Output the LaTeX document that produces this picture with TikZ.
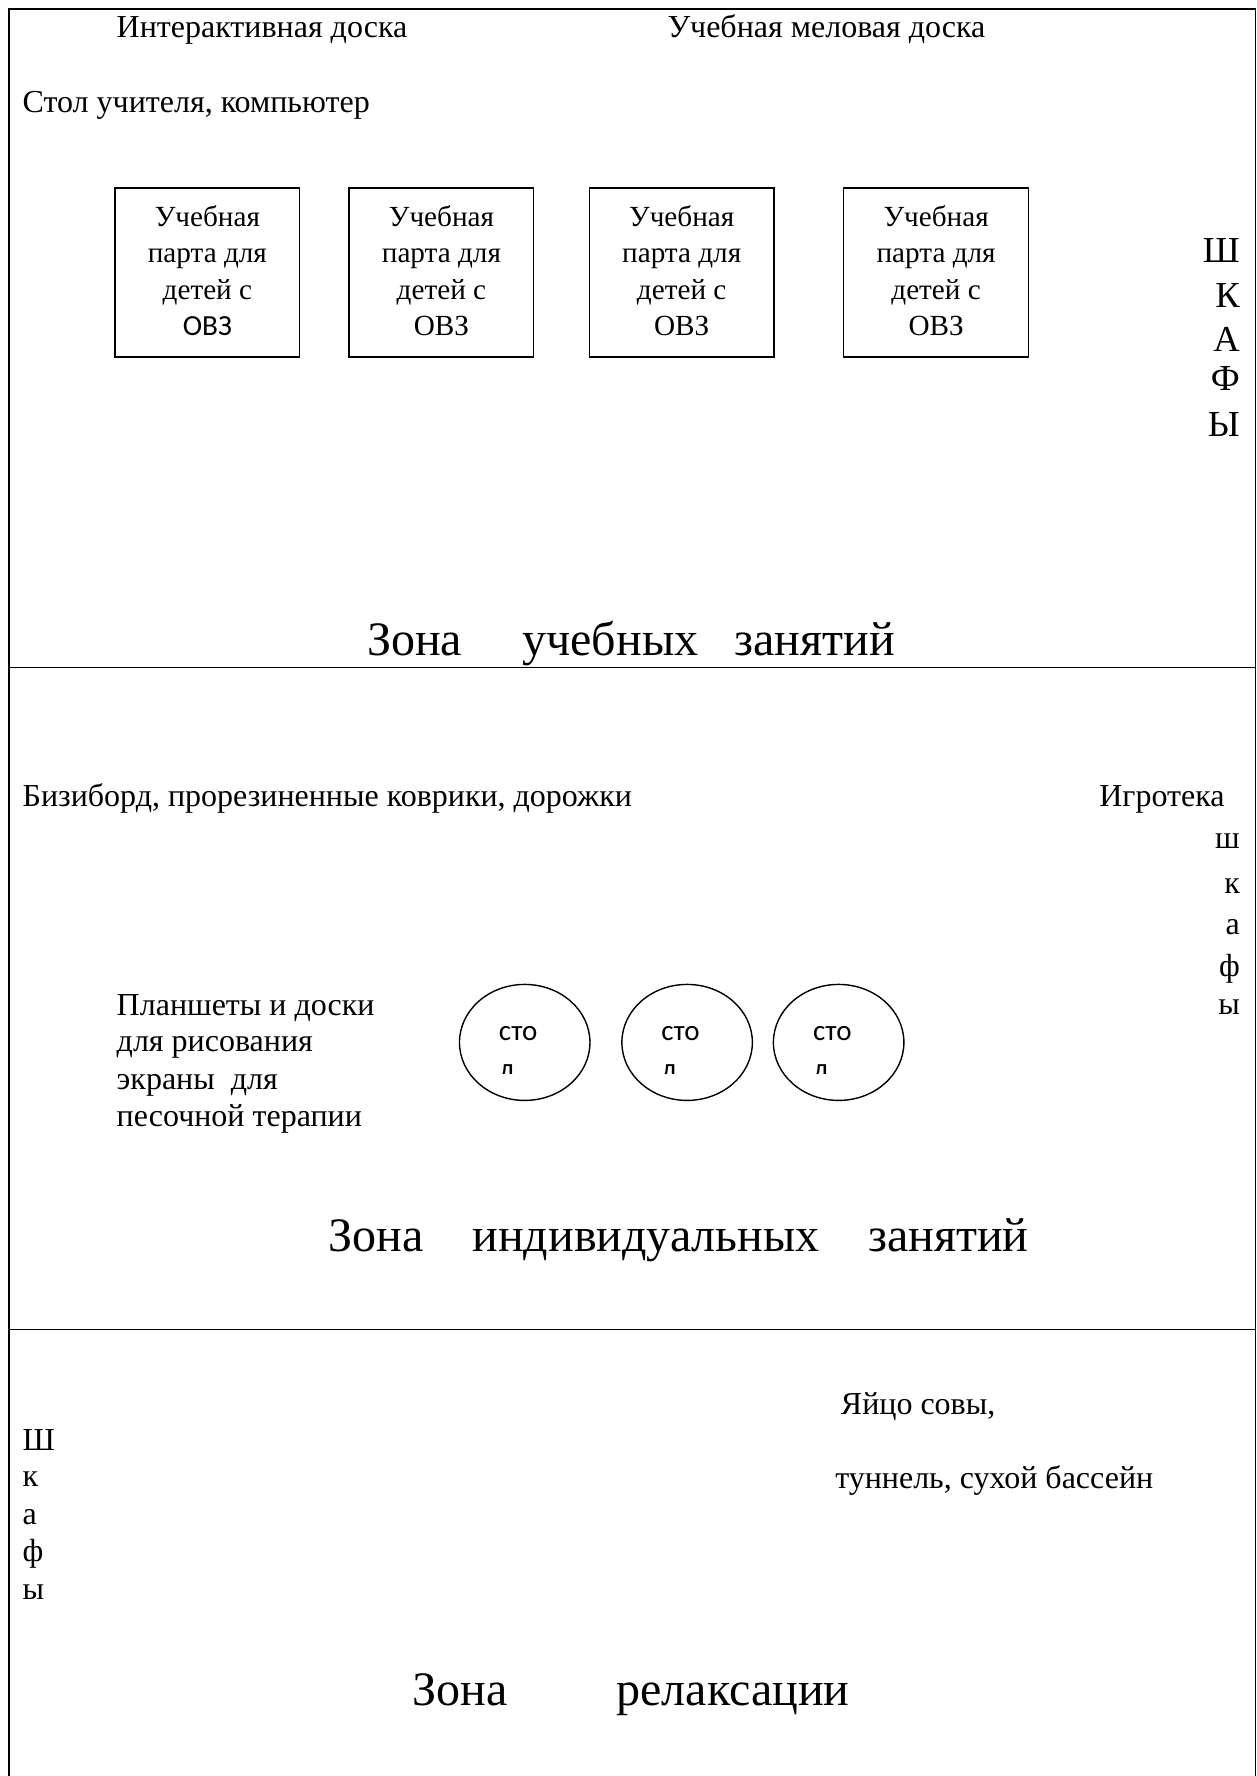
\documentclass[tikz,border=0pt]{standalone}
\usepackage{fontspec}
\usetikzlibrary{shapes.geometric}
\setmainfont{Liberation Serif}
\newfontfamily\calib{Carlito}
\newcommand{\ptext}{\fontsize{32}{36.7}\selectfont}
\newcommand{\boxtext}{\fontsize{29.2}{36.4}\selectfont}
\newcommand{\zonetext}{\fontsize{48}{56}\selectfont}
\newcommand{\bigtext}{\fontsize{36.6}{42}\selectfont}
\newcommand{\tbltext}{\calib\fontsize{29}{36}\selectfont}
\begin{document}
\begin{tikzpicture}[x=1.1333pt,y=-1.1333pt,
  every node/.style={inner sep=0pt,outer sep=0pt,font=\ptext},
  lbl/.style={anchor=base west,align=left},
  rlbl/.style={anchor=base east},
  frameline/.style={line width=1.4pt,black},
  desk/.style={draw,line width=1.4pt,minimum width=184.7pt,minimum height=169pt},
  desktext/.style={align=center,font=\boxtext,yshift=2pt},
  tbl/.style={draw,ellipse,line width=1.4pt,minimum width=130.5pt,minimum height=116pt},
  tlab/.style={anchor=base west,font=\tbltext},
  zone/.style={anchor=base west,font=\zonetext},
  big/.style={anchor=base east,font=\bigtext}]
\useasboundingbox (0,0) rectangle (1109.1,1567.1);
\draw[frameline] (8,1568) -- (8,8) -- (1108,8) -- (1108,1568);
\draw[frameline] (8,589) -- (1108,589);
\draw[frameline] (8,1173) -- (1108,1173);
\node[lbl] (idoska) at (103,33) {Интерактивная доска};
\node[lbl] (mdoska) at (589,33) {Учебная меловая доска};
\node[lbl] (stol) at (20,99) {Стол учителя, компьютер};
\node[desk] (d1) at (183,240.5) {};
\node[desk] (d2) at (389.5,240.5) {};
\node[desk] (d3) at (601.5,240.5) {};
\node[desk] (d4) at (826,240.5) {};
\node[desktext] (dt1) at (d1.center) {Учебная\\парта для\\детей с\\{\calib ОВЗ}};
\node[desktext] (dt2) at (d2.center) {Учебная\\парта для\\детей с\\ОВЗ};
\node[desktext] (dt3) at (d3.center) {Учебная\\парта для\\детей с\\ОВЗ};
\node[desktext] (dt4) at (d4.center) {Учебная\\парта для\\детей с\\ОВЗ};
\node[big] (s1) at (1094,232) {Ш};
\node[big] (s2) at (1094,271) {К};
\node[big] (s3) at (1094,310) {А};
\node[big] (s4) at (1094,345) {Ф};
\node[big] (s5) at (1094,385) {Ы};
\node[zone] (z1) at (324,578) {Зона};
\node[zone] (z1b) at (461,578) {учебных};
\node[zone] (z1c) at (648,578) {занятий};
\node[lbl] (biz) at (20,712) {Бизиборд, прорезиненные коврики, дорожки};
\node[lbl] (igr) at (970,712) {Игротека};
\node[rlbl] (t1) at (1094,749) {ш};
\node[rlbl] (t2) at (1094,788) {к};
\node[rlbl] (t3) at (1094,825) {а};
\node[rlbl] (t4) at (1094,862) {ф};
\node[rlbl] (t5) at (1094,895) {ы};
\node[lbl] (pl1) at (103,896) {Планшеты и доски};
\node[lbl] (pl2) at (103,928) {для рисования};
\node[lbl] (pl3) at (103,961) {экраны~ для};
\node[lbl] (pl4) at (103,994) {песочной терапии};
\node[tbl] (e1) at (463,919.8) {};
\node[tbl] (e2) at (606.3,919.8) {};
\node[tbl] (e3) at (740,919.8) {};
\node[tlab] (c1) at (440.3,917.7) {сто};
\node[tlab] (c2) at (583.5,917.7) {сто};
\node[tlab] (c3) at (717.5,917.7) {сто};
\begin{scope}
\clip (430,930) rectangle (760,946.8);
\node[tlab] (l1) at (440.5,951.7) {л};
\node[tlab] (l2) at (583.5,951.7) {л};
\node[tlab] (l3) at (717.5,951.7) {л};
\end{scope}
\node[zone] (z2) at (290,1104) {Зона};
\node[zone] (z2b) at (417,1104) {индивидуальных};
\node[zone] (z2c) at (766,1104) {занятий};
\node[lbl] (egg) at (742,1248) {Яйцо совы,};
\node[lbl] (tun) at (737,1313) {туннель, сухой бассейн};
\node[lbl] (u1) at (20,1280) {Ш};
\node[lbl] (u2) at (20,1312) {к};
\node[lbl] (u3) at (20,1345) {а};
\node[lbl] (u4) at (20,1378) {ф};
\node[lbl] (u5) at (20,1411) {ы};
\node[zone] (z3) at (364,1505) {Зона};
\node[zone] (z3b) at (544,1505) {релаксации};
\end{tikzpicture}
\end{document}
